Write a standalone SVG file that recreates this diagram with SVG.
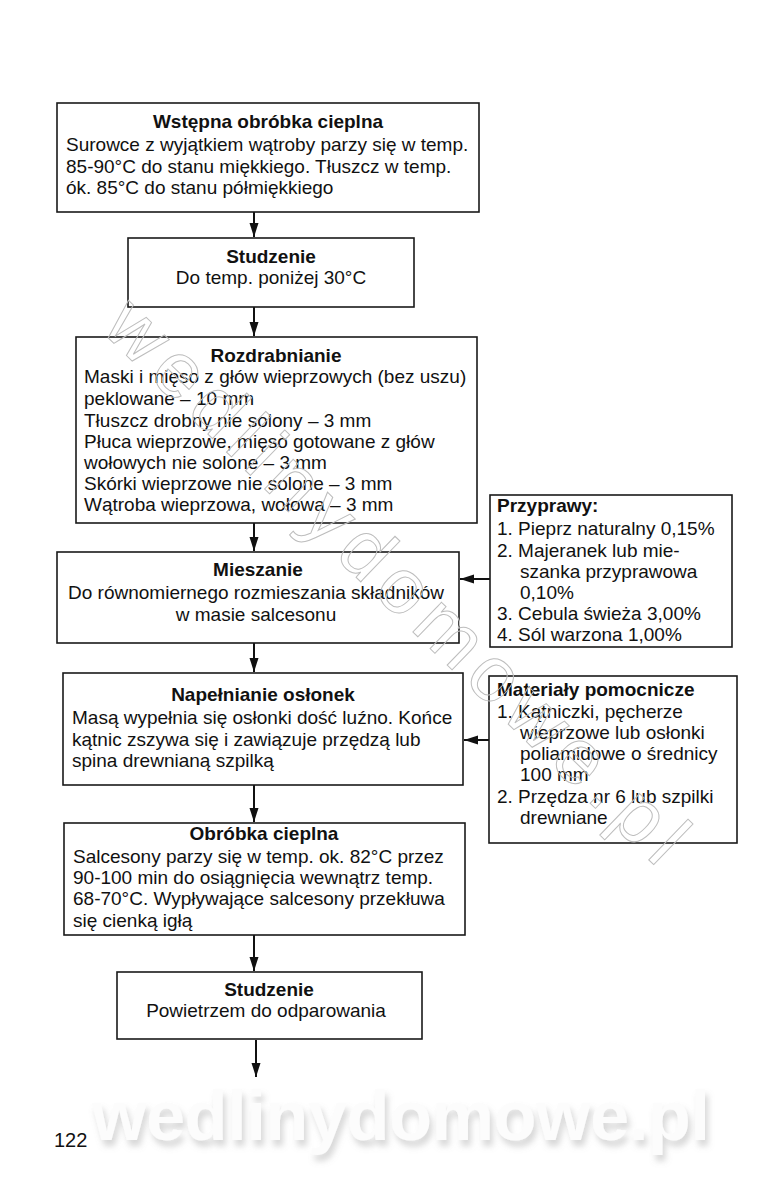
<svg xmlns="http://www.w3.org/2000/svg" width="780" height="1200" viewBox="0 0 780 1200">
<style>
.box{fill:#fff;stroke:#1a1a1a;stroke-width:1.6}
.t{font-family:"Liberation Sans",Arial,sans-serif;font-size:19px;fill:#111}
.b{font-weight:bold}
.c{text-anchor:middle}
.con{stroke:#111;stroke-width:2;fill:none}
.wm{font-family:"Liberation Sans",Arial,sans-serif;font-size:78px;fill:none;stroke:#bdbdbd;stroke-width:1}
.wm2{font-family:"Liberation Sans",Arial,sans-serif;font-weight:bold;font-size:70px;fill:#fcfcfc}
</style>
<defs>
<marker id="ah" markerUnits="userSpaceOnUse" markerWidth="14" markerHeight="10" refX="14" refY="5" orient="auto">
<path d="M0,0.5 L14,5 L0,9.5 Z" fill="#111"/>
</marker>
<filter id="sh" x="-10%" y="-30%" width="120%" height="160%">
<feDropShadow dx="3" dy="6" stdDeviation="3" flood-color="#8a8a8a" flood-opacity="0.35"/>
</filter>
</defs>
<rect width="780" height="1200" fill="#fff"/>

<g id="connectors">
<line class="con" x1="254" y1="212" x2="254" y2="237" marker-end="url(#ah)"/>
<line class="con" x1="254" y1="307" x2="254" y2="336" marker-end="url(#ah)"/>
<line class="con" x1="254" y1="523" x2="254" y2="551" marker-end="url(#ah)"/>
<line class="con" x1="254" y1="643" x2="254" y2="672" marker-end="url(#ah)"/>
<line class="con" x1="254" y1="785" x2="254" y2="822" marker-end="url(#ah)"/>
<line class="con" x1="254" y1="935" x2="254" y2="971" marker-end="url(#ah)"/>
<line class="con" x1="256" y1="1040" x2="256" y2="1077" marker-end="url(#ah)"/>
<line class="con" x1="490" y1="579" x2="460" y2="579" marker-end="url(#ah)"/>
<line class="con" x1="489" y1="740" x2="464" y2="740" marker-end="url(#ah)"/>
</g>

<g id="n1">
<rect class="box" x="57" y="103" width="422" height="109"/>
<text class="t b c" x="268" y="128">Wstępna obróbka cieplna</text>
<text class="t" x="66" y="151">Surowce z wyjątkiem wątroby parzy się w temp.</text>
<text class="t" x="66" y="173">85-90°C do stanu miękkiego. Tłuszcz w temp.</text>
<text class="t" x="66" y="194">ók. 85°C do stanu półmiękkiego</text>
</g>

<g id="n2">
<rect class="box" x="128" y="238" width="286" height="69"/>
<text class="t b c" x="271" y="263">Studzenie</text>
<text class="t c" x="271" y="284">Do temp. poniżej 30°C</text>
</g>

<g id="n3">
<rect class="box" x="76" y="337" width="401" height="186"/>
<text class="t b c" x="276" y="362">Rozdrabnianie</text>
<text class="t" x="84" y="383">Maski i mięso z głów wieprzowych (bez uszu)</text>
<text class="t" x="84" y="405">peklowane – 10 mm</text>
<text class="t" x="84" y="427">Tłuszcz drobny nie solony – 3 mm</text>
<text class="t" x="84" y="448">Płuca wieprzowe, mięso gotowane z głów</text>
<text class="t" x="84" y="469">wołowych nie solone – 3 mm</text>
<text class="t" x="84" y="490">Skórki wieprzowe nie solone – 3 mm</text>
<text class="t" x="84" y="511">Wątroba wieprzowa, wołowa – 3 mm</text>
</g>

<g id="n4">
<rect class="box" x="57" y="552" width="402" height="91"/>
<text class="t b c" x="258" y="576">Mieszanie</text>
<text class="t c" x="256" y="599">Do równomiernego rozmieszania składników</text>
<text class="t c" x="256" y="621">w masie salcesonu</text>
</g>

<g id="n5">
<rect class="box" x="63" y="673" width="400" height="112"/>
<text class="t b c" x="263" y="701">Napełnianie osłonek</text>
<text class="t" x="72" y="724">Masą wypełnia się osłonki dość luźno. Końce</text>
<text class="t" x="72" y="746">kątnic zszywa się i zawiązuje przędzą lub</text>
<text class="t" x="72" y="767">spina drewnianą szpilką</text>
</g>

<g id="n6">
<rect class="box" x="64" y="823" width="401" height="112"/>
<text class="t b c" x="264" y="840">Obróbka cieplna</text>
<text class="t" x="73" y="863">Salcesony parzy się w temp. ok. 82°C przez</text>
<text class="t" x="73" y="884">90-100 min do osiągnięcia wewnątrz temp.</text>
<text class="t" x="73" y="905">68-70°C. Wypływające salcesony przekłuwa</text>
<text class="t" x="73" y="927">się cienką igłą</text>
</g>

<g id="n7">
<rect class="box" x="117" y="972" width="305" height="67"/>
<text class="t b c" x="269" y="996">Studzenie</text>
<text class="t c" x="266" y="1017">Powietrzem do odparowania</text>
</g>

<g id="przyprawy">
<rect class="box" x="490" y="495" width="242" height="152"/>
<text class="t b" x="497" y="512">Przyprawy:</text>
<text class="t" x="497" y="535">1. Pieprz naturalny 0,15%</text>
<text class="t" x="497" y="557">2. Majeranek lub mie-</text>
<text class="t" x="520" y="578">szanka przyprawowa</text>
<text class="t" x="520" y="599">0,10%</text>
<text class="t" x="497" y="620">3. Cebula świeża 3,00%</text>
<text class="t" x="497" y="641">4. Sól warzona 1,00%</text>
</g>

<g id="materialy">
<rect class="box" x="489" y="676" width="248" height="167"/>
<text class="t b" x="497" y="696">Materiały pomocnicze</text>
<text class="t" x="497" y="718">1. Kątniczki, pęcherze</text>
<text class="t" x="520" y="739">wieprzowe lub osłonki</text>
<text class="t" x="520" y="760">poliamidowe o średnicy</text>
<text class="t" x="520" y="781">100 mm</text>
<text class="t" x="497" y="803">2. Przędza nr 6 lub szpilki</text>
<text class="t" x="520" y="824">drewniane</text>
</g>

<text class="wm" transform="translate(100,330) rotate(44)" textLength="775">wedlinydomowe.pl</text>
<text class="wm2" x="92" y="1140" filter="url(#sh)" textLength="618">wedlinydomowe.pl</text>
<text class="t" x="54" y="1147" style="font-size:20px">122</text>
</svg>
